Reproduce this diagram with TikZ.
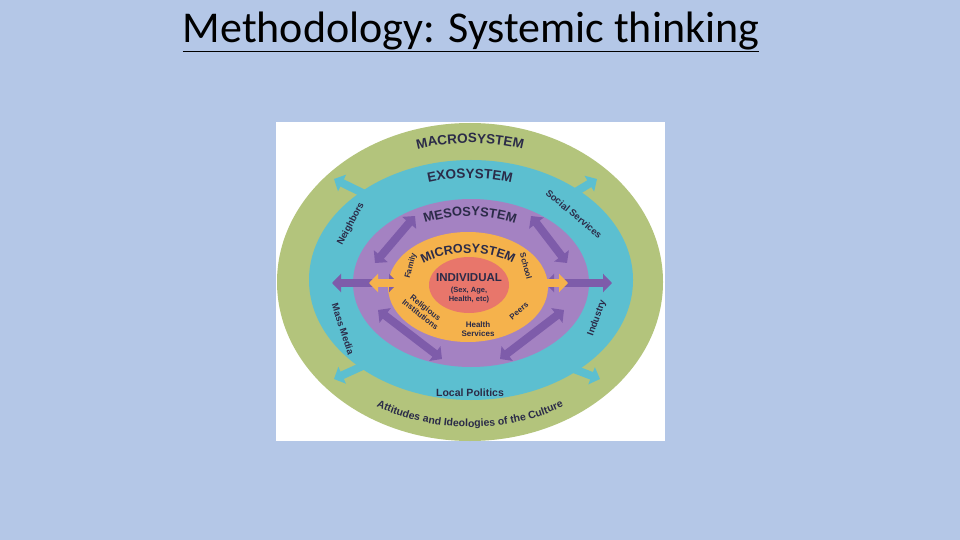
\documentclass[tikz,border=0pt]{standalone}
\usepackage{fontspec}
\setmainfont{Carlito}
\newfontfamily\dfont{Liberation Sans}
\usetikzlibrary{arrows.meta,decorations.text,calc}
\definecolor{bgc}{HTML}{B4C7E7}
\definecolor{gr}{HTML}{B3C47C}
\definecolor{bl}{HTML}{5CBFD0}
\definecolor{pu}{HTML}{A482C2}
\definecolor{dpu}{HTML}{7E5CAA}
\definecolor{orn}{HTML}{F5B24C}
\definecolor{rd}{HTML}{E8766B}
\definecolor{tx}{HTML}{2B2B48}
\begin{document}
\begin{tikzpicture}[x=1pt,y=1pt,
  lbl/.style={font=\dfont\bfseries\fontsize{9.5}{10}\selectfont,text=tx,align=center,inner sep=0pt},
  dar/.style={line width=8pt,{Triangle[length=9pt,width=18pt]}-{Triangle[length=9pt,width=18pt]}}]
\fill[bgc] (0,0) rectangle (960,-540);
\useasboundingbox (0,0) rectangle (960,-540);
\node[font=\fontsize{44}{48}\selectfont,inner sep=0pt] (title) at (471,-32) {\underline{Methodology: Systemic thinking}};
\fill[white] (276,-122) rectangle (665,-441);
\coordinate (C) at (470,-282);
\coordinate (M) at (468,-287);
\fill[gr] (C) ellipse[x radius=193,y radius=159];
\fill[bl] (471,-280) ellipse[x radius=162,y radius=120];
\fill[pu] (471,-283) ellipse[x radius=118,y radius=84];
\fill[orn] (M) ellipse[x radius=80,y radius=55];
\fill[rd] (469,-285) ellipse[x radius=40,y radius=28];
% arrows between exo and macro
\draw[dar,bl] (334,-179) -- (375,-199);
\draw[dar,bl] (597,-179) -- (564,-199);
\draw[dar,bl] (334,-379) -- (378,-359);
\draw[dar,bl] (600,-379) -- (558,-363);
% horizontal arrows
\draw[dar,dpu] (332,-283) -- (398,-283);
\draw[dar,dpu] (612,-283) -- (545,-283);
\draw[dar,orn] (369,-283) -- (418,-283);
\draw[dar,orn] (568,-283) -- (520,-283);
% diagonal purple arrows
\draw[dar,dpu] (375,-263) -- (415,-216);
\draw[dar,dpu] (567,-263) -- (531,-216);
\draw[dar,dpu] (378,-310) -- (442,-359);
\draw[dar,dpu] (564,-310) -- (500,-359);
% curved labels
\path[decorate,decoration={text along path,text align=center,text={|\dfont\bfseries\fontsize{13.5}{14}\selectfont\color{tx}|MACROSYSTEM}}]
  ($(C)+(125:175 and 139)$) arc[start angle=125,end angle=55,x radius=175,y radius=139];
\path[decorate,decoration={text along path,text align=center,text={|\dfont\bfseries\fontsize{13.5}{14}\selectfont\color{tx}|EXOSYSTEM}}]
  ($(C)+(130:140 and 104)$) arc[start angle=130,end angle=50,x radius=140,y radius=104];
\path[decorate,decoration={text along path,text align=center,text={|\dfont\bfseries\fontsize{13}{14}\selectfont\color{tx}|MESOSYSTEM}}]
  ($(C)+(145:100 and 66)$) arc[start angle=145,end angle=35,x radius=100,y radius=66];
\path[decorate,decoration={text along path,text align=center,text={|\dfont\bfseries\fontsize{12.5}{13}\selectfont\color{tx}|MICROSYSTEM}}]
  ($(M)+(170:62 and 34)$) arc[start angle=170,end angle=10,x radius=62,y radius=34];
\path[decorate,decoration={text along path,text align=center,text={|\dfont\bfseries\fontsize{10.5}{11}\selectfont\color{tx}|Attitudes and Ideologies of the Culture}}]
  ($(C)+(225:182 and 145)$) arc[start angle=225,end angle=315,x radius=182,y radius=145];
% straight labels
\node[lbl,rotate=62] (nb) at (351,-224) {Neighbors};
\node[lbl,rotate=-40] (ss) at (574,-214) {Social Services};
\node[lbl,rotate=-72] (mm) at (343,-329) {Mass Media};
\node[lbl,rotate=70] (ind) at (597,-318) {Industry};
\node[lbl,font=\dfont\bfseries\fontsize{10.5}{11}\selectfont] (lp) at (470,-393) {Local Politics};
\node[lbl,font=\dfont\bfseries\fontsize{8}{9}\selectfont,rotate=75] (fam) at (411,-266) {Family};
\node[lbl,font=\dfont\bfseries\fontsize{8}{9}\selectfont,rotate=-75] (sch) at (526,-266) {School};
\node[lbl,font=\dfont\bfseries\fontsize{8}{8.5}\selectfont,rotate=-38] (rel) at (423,-311) {Religious\\Institutions};
\node[lbl,font=\dfont\bfseries\fontsize{8}{8.5}\selectfont] (hs) at (478,-329) {Health\\Services};
\node[lbl,font=\dfont\bfseries\fontsize{8}{9}\selectfont,rotate=40] (pe) at (519,-311) {Peers};
\node[lbl,font=\dfont\bfseries\fontsize{11.5}{12}\selectfont] (indv) at (469,-278) {INDIVIDUAL};
\node[lbl,font=\dfont\bfseries\fontsize{7.5}{8.5}\selectfont] (sex) at (469,-295) {(Sex, Age,\\Health, etc)};
\end{tikzpicture}
\end{document}
